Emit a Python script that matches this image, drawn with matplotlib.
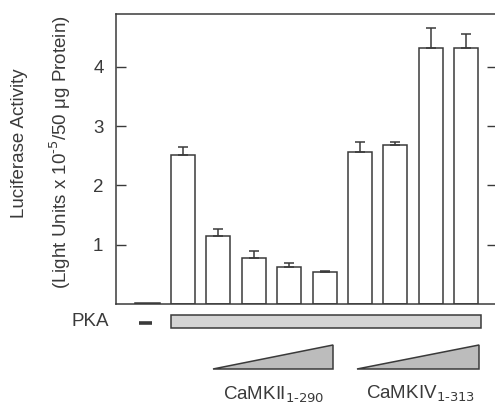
import matplotlib.pyplot as plt
from matplotlib.patches import Rectangle, Polygon

# bar heights (luciferase activity) and upper error bars
values = [0.02, 2.51, 1.15, 0.78, 0.63, 0.545, 2.56, 2.68, 4.32, 4.31]
errors = [0.0, 0.14, 0.11, 0.12, 0.06, 0.01, 0.17, 0.05, 0.33, 0.24]
yticks = [1, 2, 3, 4]

plt.rcParams['font.family'] = ['Liberation Sans', 'DejaVu Sans']
ink = '#3a3a3a'

fig = plt.figure(figsize=(4.95, 4.07), dpi=100)
ax = fig.add_axes([116 / 495, 103 / 407, 381 / 495, 290 / 407])

x = list(range(len(values)))
ax.bar(x, values, width=0.68, color='white', edgecolor=ink, linewidth=1.1)
ax.errorbar(x[1:], values[1:], yerr=[[0] * (len(values) - 1), errors[1:]],
            fmt='none', ecolor=ink, elinewidth=1.1, capsize=3.6, capthick=1.1)

ax.set_xlim(-0.89, 9.87)
ax.set_ylim(0, 4.89)
ax.set_xticks([])
ax.set_yticks(yticks)
ax.tick_params(axis='y', direction='in', length=7, width=1, color=ink,
               labelsize=13.5, labelcolor=ink, right=True, pad=9)
for s in ax.spines.values():
    s.set_color(ink)
    s.set_linewidth(1.1)

fig.text(20 / 495, 1 - 143 / 407, 'Luciferase Activity', rotation=90,
         ha='center', va='center', fontsize=13.5, color=ink)
fig.text(60 / 495, 1 - 152 / 407,
         '(Light Units x 10$^{\\text{-}5}$/50 \u03bcg Protein)',
         rotation=90, ha='center', va='center', fontsize=13.5, color=ink)

# PKA row
ax.text(-1.62, -0.30, 'PKA', ha='center', va='center', fontsize=13.5,
        color=ink, clip_on=False)
ax.plot([-0.25, 0.12], [-0.32, -0.32], color=ink, linewidth=2.6,
        solid_capstyle='butt', clip_on=False)
ax.add_patch(Rectangle((0.66, -0.405), 9.42 - 0.66, 0.22, facecolor='#d4d4d4',
                       edgecolor=ink, linewidth=1.1, clip_on=False))

# kinase ramps
for x0, x1 in [(1.85, 5.24), (5.92, 9.36)]:
    ax.add_patch(Polygon([(x0, -1.10), (x1, -1.10), (x1, -0.69)], closed=True,
                         facecolor='#bcbcbc', edgecolor=ink, linewidth=1.1,
                         clip_on=False))

ax.text(3.57, -1.61, 'CaMKII$_{1\\text{-}290}$', ha='center', va='baseline',
        fontsize=13.5, color=ink, clip_on=False)
ax.text(7.70, -1.59, 'CaMKIV$_{1\\text{-}313}$', ha='center', va='baseline',
        fontsize=13.5, color=ink, clip_on=False)

fig.savefig('out.png', dpi=100)
